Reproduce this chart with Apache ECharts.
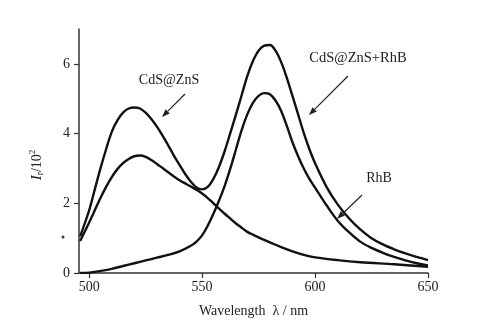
<!DOCTYPE html>
<html>
<head>
<meta charset="utf-8">
<script src="https://cdn.jsdelivr.net/npm/echarts@6/dist/echarts.min.js"></script>
<style>html,body{margin:0;padding:0;background:#fff}#c{width:499px;height:323px}</style>
</head>
<body>
<div id="c"></div>
<script>
// Data
const xTicks = [500, 550, 600, 650];
const yTicks = [0, 2, 4, 6];

const mixWl = [496,500,502.5,505,507.5,510,512.5,515,517.5,520,522.5,525,527.5,530,532.5,535,537.5,540,542.5,545,547.5,550,552.5,555,557.5,560,562.5,565,567.5,570,572.5,575,577.5,580,582.5,585,587.5,590,592.5,595,597.5,600,605,610,615,620,625,630,635,640,645,650];
const mixVal = [1.05,1.8,2.4,3.0,3.55,4.05,4.38,4.6,4.72,4.75,4.72,4.6,4.42,4.2,3.94,3.66,3.37,3.1,2.84,2.62,2.45,2.4,2.47,2.7,3.05,3.5,4.02,4.55,5.1,5.65,6.08,6.38,6.52,6.54,6.38,6.05,5.6,5.08,4.55,4.02,3.55,3.15,2.48,1.97,1.57,1.25,1.0,0.82,0.68,0.56,0.46,0.37];

const qdWl = [496,500,502.5,505,507.5,510,512.5,515,517.5,520,522.5,525,527.5,530,532.5,535,537.5,540,542.5,545,547.5,550,552.5,555,557.5,560,562.5,565,567.5,570,572.5,575,577.5,580,585,590,595,600,610,620,635,650];
const qdVal = [0.92,1.45,1.8,2.15,2.47,2.75,2.98,3.15,3.27,3.35,3.37,3.33,3.24,3.13,3.01,2.89,2.77,2.66,2.57,2.48,2.39,2.28,2.15,2.0,1.85,1.7,1.56,1.42,1.3,1.18,1.1,1.02,0.95,0.88,0.74,0.62,0.52,0.45,0.37,0.31,0.25,0.18];

const rhbWl = [496,500,505,510,515,520,525,530,535,540,545,547.5,550,552.5,555,557.5,560,562.5,565,567.5,570,572.5,575,577.5,580,582.5,585,587.5,590,592.5,595,597.5,600,605,610,615,620,625,630,635,640,645,650];
const rhbVal = [0,0.01,0.06,0.12,0.2,0.28,0.36,0.44,0.52,0.62,0.78,0.9,1.08,1.36,1.7,2.08,2.5,3.0,3.55,4.1,4.55,4.88,5.08,5.16,5.13,4.95,4.65,4.22,3.75,3.35,3.0,2.7,2.45,1.95,1.5,1.17,0.9,0.72,0.58,0.46,0.36,0.28,0.22];

const pair = (w, v) => w.map((x, i) => [x, v[i]]);
const FONT = 'Liberation Serif';

const chart = echarts.init(document.getElementById('c'));
const lineStyle = { color: '#111', width: 2.4 };
const mkSeries = (name, d) => ({
  name, type: 'line', data: d, smooth: 0.35, showSymbol: false,
  lineStyle, itemStyle: { color: '#111' }, silent: true, animation: false
});

function arrow(x1, y1, x2, y2) {
  const ang = Math.atan2(y2 - y1, x2 - x1);
  const L = 8, W = 3;
  const bx = x2 - L * Math.cos(ang), by = y2 - L * Math.sin(ang);
  const px = -Math.sin(ang) * W, py = Math.cos(ang) * W;
  return [
    { type: 'line', shape: { x1, y1, x2: bx, y2: by }, style: { stroke: '#222', lineWidth: 1.2 } },
    { type: 'polygon', shape: { points: [[x2, y2], [bx + px, by + py], [bx - px, by - py]] }, style: { fill: '#222' } }
  ];
}

chart.setOption({
  animation: false,
  backgroundColor: '#fff',
  grid: { left: 79, right: 71, top: 29, bottom: 50 },
  xAxis: {
    type: 'value', min: 495.5, max: 650,
    axisLine: { show: true, onZero: false, lineStyle: { color: '#333', width: 1.5 } },
    axisTick: { show: true, length: 5, customValues: xTicks, lineStyle: { color: '#333', width: 1.2 } },
    axisLabel: { customValues: xTicks, color: '#222', fontFamily: FONT, fontSize: 14, margin: 7 },
    splitLine: { show: false },
    name: 'Wavelength  λ / nm', nameLocation: 'middle', nameGap: 31,
    nameTextStyle: { color: '#222', fontFamily: FONT, fontSize: 14 }
  },
  yAxis: {
    type: 'value', min: 0, max: 7,
    axisLine: { show: true, lineStyle: { color: '#333', width: 1.5 } },
    axisTick: { show: true, length: 5, customValues: yTicks, lineStyle: { color: '#333', width: 1.2 } },
    axisLabel: { customValues: yTicks, color: '#222', fontFamily: FONT, fontSize: 14, margin: 9 },
    splitLine: { show: false }
  },
  series: [
    mkSeries('CdS@ZnS+RhB', pair(mixWl, mixVal)),
    mkSeries('CdS@ZnS', pair(qdWl, qdVal)),
    mkSeries('RhB', pair(rhbWl, rhbVal))
  ],
  graphic: [
    { type: 'text', x: 169, y: 80, style: { text: 'CdS@ZnS', font: '14px "Liberation Serif"', fill: '#222', align: 'center', verticalAlign: 'middle' } },
    { type: 'text', x: 358, y: 58, style: { text: 'CdS@ZnS+RhB', font: '14.5px "Liberation Serif"', fill: '#222', align: 'center', verticalAlign: 'middle' } },
    { type: 'text', x: 379, y: 178, style: { text: 'RhB', font: '14px "Liberation Serif"', fill: '#222', align: 'center', verticalAlign: 'middle' } },
    {
      type: 'text', x: 37, y: 165, rotation: Math.PI / 2,
      style: {
        text: '{i|I}{sub|r}{n|/10}{sup|2}', align: 'center', verticalAlign: 'middle',
        rich: {
          i: { fontFamily: FONT, fontSize: 15, fontStyle: 'italic', fill: '#222' },
          sub: { fontFamily: FONT, fontSize: 10, fill: '#222', padding: [7, 0, 0, 0] },
          n: { fontFamily: FONT, fontSize: 14, fill: '#222' },
          sup: { fontFamily: FONT, fontSize: 9, fill: '#222', padding: [0, 0, 9, 0] }
        }
      }
    },
    ...arrow(185, 94, 162, 117),
    ...arrow(348, 76, 309, 115),
    ...arrow(362, 195, 337, 219),
    { type: 'circle', shape: { cx: 63, cy: 237, r: 1.5 }, style: { fill: '#333' } }
  ]
});
</script>
</body>
</html>
